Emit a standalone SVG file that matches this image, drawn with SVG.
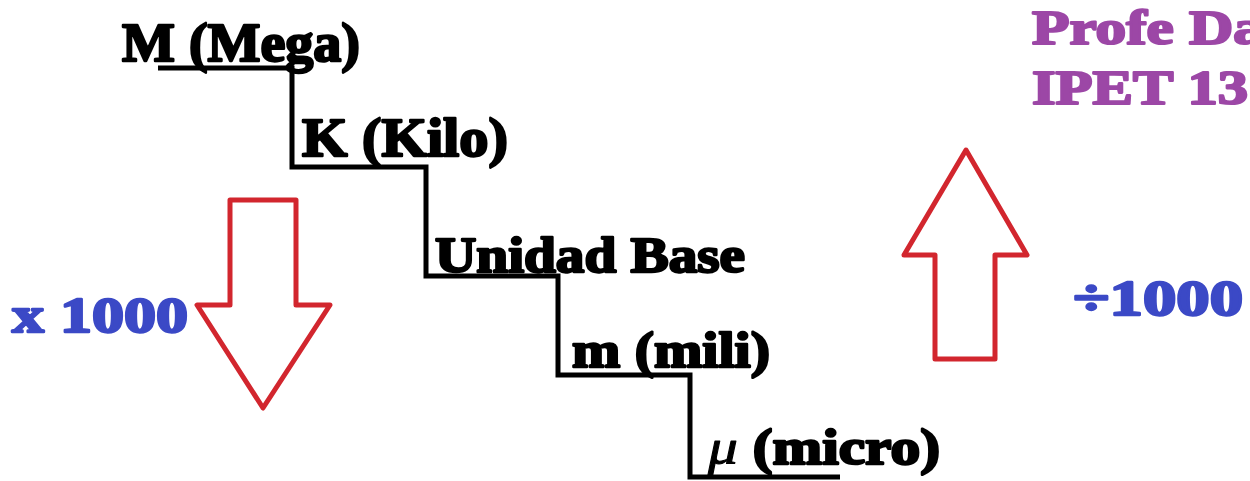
<svg xmlns="http://www.w3.org/2000/svg" width="1250" height="481" viewBox="0 0 1250 481">
<style>
.t{font-family:"Liberation Serif","DejaVu Serif",serif;font-weight:bold;stroke-linejoin:round;}
.k{fill:#000;stroke:#000;stroke-width:2.4;}
.b{fill:#3b49c6;stroke:#3b49c6;stroke-width:2.4;}
.p{fill:#9c47a6;stroke:#9c47a6;stroke-width:2.2;}
.arrow{fill:none;stroke:#d2262e;stroke-width:5;stroke-linejoin:round;}
.stair{fill:none;stroke:#000;stroke-width:5;stroke-linejoin:miter;}
</style>
<rect width="1250" height="481" fill="#fff"/>
<g id="connectors">
<path class="stair" d="M158,68 H292 V167 H426 V276 H558 V375 H690 V477 H840"/>
</g>
<g id="mega"><text class="t k" x="122" y="61" font-size="54" textLength="238" lengthAdjust="spacingAndGlyphs">M (Mega)</text></g>
<g id="kilo"><text class="t k" x="302" y="156" font-size="54" textLength="206" lengthAdjust="spacingAndGlyphs">K (Kilo)</text></g>
<g id="base"><text class="t k" x="435" y="272" font-size="50" textLength="310" lengthAdjust="spacingAndGlyphs">Unidad Base</text></g>
<g id="mili"><text class="t k" x="572" y="367" font-size="50" textLength="198" lengthAdjust="spacingAndGlyphs">m (mili)</text></g>
<g id="micro"><text class="t k" x="708" y="464" font-size="50" textLength="232" lengthAdjust="spacingAndGlyphs"><tspan font-style="italic" font-weight="normal" stroke-width="1">μ</tspan> (micro)</text></g>
<g id="down-arrow"><path class="arrow" d="M230,200 H296 V305 H330 L263,408 L197,305 H230 Z"/></g>
<g id="up-arrow"><path class="arrow" d="M966,150 L1027,255 H995 V359 H935 V255 H904 Z"/></g>
<g id="por1000"><text class="t b" x="12" y="332" font-size="50" textLength="176" lengthAdjust="spacingAndGlyphs">x 1000</text></g>
<g id="div1000"><text class="t b" x="1073" y="315" font-size="50" textLength="170" lengthAdjust="spacingAndGlyphs">÷1000</text></g>
<g id="profe"><text class="t p" x="1032" y="44" font-size="48" textLength="232" lengthAdjust="spacingAndGlyphs">Profe Da</text>
<text class="t p" x="1032" y="104" font-size="48" textLength="216" lengthAdjust="spacingAndGlyphs">IPET 13</text></g>
</svg>
